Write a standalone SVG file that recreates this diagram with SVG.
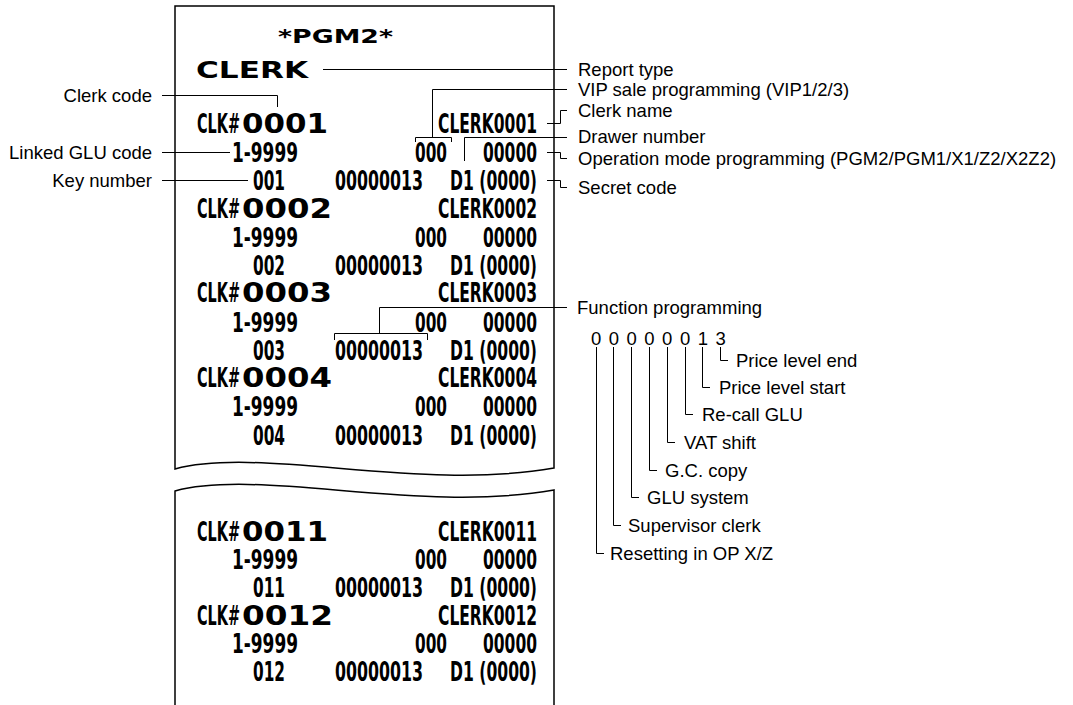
<svg xmlns="http://www.w3.org/2000/svg" width="1073" height="705" viewBox="0 0 1073 705">
<style>
.lbl{font-family:"Liberation Sans",Arial,sans-serif;font-size:18.5px;fill:#000}
.end{text-anchor:end}
.rc{font-family:"Liberation Sans Narrow","DejaVu Sans Condensed","Liberation Sans",sans-serif;font-weight:bold;font-size:26px;font-stretch:condensed;fill:#000}
.wd{font-family:"DejaVu Sans","Liberation Sans",sans-serif;font-weight:bold;font-size:27px;fill:#000}
.ln{stroke:#000;stroke-width:1;fill:none}
.paper{stroke:#000;stroke-width:1.5;fill:#fff}
</style>
<rect width="1073" height="705" fill="#fff"/>
<g id="receipt">
<path class="paper" d="M175 469 L175 6 L554 6 L554 468 C420 492 260 446 175 469 Z"/>
<path class="paper" d="M175 705 L175 491 C260 468 420 514 554 490 L554 705"/>
<text class="wd" x="278" y="43" textLength="115" lengthAdjust="spacingAndGlyphs" style="font-size:19px">*PGM2*</text>
<text class="wd" x="196" y="78" textLength="112" lengthAdjust="spacingAndGlyphs" style="font-size:23px">CLERK</text>
</g>
<g id="clk0001">
<text class="rc" y="133"><tspan x="197" textLength="43" lengthAdjust="spacingAndGlyphs">CLK#</tspan><tspan class="wd" x="242" textLength="86" lengthAdjust="spacingAndGlyphs">0001</tspan></text>
<text class="rc" x="438" y="133" textLength="99" lengthAdjust="spacingAndGlyphs">CLERK0001</text>
<text class="rc" x="232" y="162" textLength="66" lengthAdjust="spacingAndGlyphs">1-9999</text>
<text class="rc" x="415" y="162" textLength="32" lengthAdjust="spacingAndGlyphs">000</text>
<text class="rc" x="483" y="162" textLength="54" lengthAdjust="spacingAndGlyphs">00000</text>
<text class="rc" x="253" y="190" textLength="32" lengthAdjust="spacingAndGlyphs">001</text>
<text class="rc" x="335" y="190" textLength="88" lengthAdjust="spacingAndGlyphs">00000013</text>
<text class="rc" x="450" y="190" textLength="87" lengthAdjust="spacingAndGlyphs">D1 (0000)</text>
</g>
<g id="clk0002">
<text class="rc" y="218"><tspan x="197" textLength="43" lengthAdjust="spacingAndGlyphs">CLK#</tspan><tspan class="wd" x="242" textLength="90" lengthAdjust="spacingAndGlyphs">0002</tspan></text>
<text class="rc" x="438" y="218" textLength="99" lengthAdjust="spacingAndGlyphs">CLERK0002</text>
<text class="rc" x="232" y="247" textLength="66" lengthAdjust="spacingAndGlyphs">1-9999</text>
<text class="rc" x="415" y="247" textLength="32" lengthAdjust="spacingAndGlyphs">000</text>
<text class="rc" x="483" y="247" textLength="54" lengthAdjust="spacingAndGlyphs">00000</text>
<text class="rc" x="253" y="275" textLength="32" lengthAdjust="spacingAndGlyphs">002</text>
<text class="rc" x="335" y="275" textLength="88" lengthAdjust="spacingAndGlyphs">00000013</text>
<text class="rc" x="450" y="275" textLength="87" lengthAdjust="spacingAndGlyphs">D1 (0000)</text>
</g>
<g id="clk0003">
<text class="rc" y="302"><tspan x="197" textLength="43" lengthAdjust="spacingAndGlyphs">CLK#</tspan><tspan class="wd" x="242" textLength="90" lengthAdjust="spacingAndGlyphs">0003</tspan></text>
<text class="rc" x="438" y="302" textLength="99" lengthAdjust="spacingAndGlyphs">CLERK0003</text>
<text class="rc" x="232" y="332" textLength="66" lengthAdjust="spacingAndGlyphs">1-9999</text>
<text class="rc" x="415" y="332" textLength="32" lengthAdjust="spacingAndGlyphs">000</text>
<text class="rc" x="483" y="332" textLength="54" lengthAdjust="spacingAndGlyphs">00000</text>
<text class="rc" x="253" y="360" textLength="32" lengthAdjust="spacingAndGlyphs">003</text>
<text class="rc" x="335" y="360" textLength="88" lengthAdjust="spacingAndGlyphs">00000013</text>
<text class="rc" x="450" y="360" textLength="87" lengthAdjust="spacingAndGlyphs">D1 (0000)</text>
</g>
<g id="clk0004">
<text class="rc" y="387"><tspan x="197" textLength="43" lengthAdjust="spacingAndGlyphs">CLK#</tspan><tspan class="wd" x="242" textLength="90" lengthAdjust="spacingAndGlyphs">0004</tspan></text>
<text class="rc" x="438" y="387" textLength="99" lengthAdjust="spacingAndGlyphs">CLERK0004</text>
<text class="rc" x="232" y="416" textLength="66" lengthAdjust="spacingAndGlyphs">1-9999</text>
<text class="rc" x="415" y="416" textLength="32" lengthAdjust="spacingAndGlyphs">000</text>
<text class="rc" x="483" y="416" textLength="54" lengthAdjust="spacingAndGlyphs">00000</text>
<text class="rc" x="253" y="445" textLength="32" lengthAdjust="spacingAndGlyphs">004</text>
<text class="rc" x="335" y="445" textLength="88" lengthAdjust="spacingAndGlyphs">00000013</text>
<text class="rc" x="450" y="445" textLength="87" lengthAdjust="spacingAndGlyphs">D1 (0000)</text>
</g>
<g id="clk0011">
<text class="rc" y="541"><tspan x="197" textLength="43" lengthAdjust="spacingAndGlyphs">CLK#</tspan><tspan class="wd" x="242" textLength="86" lengthAdjust="spacingAndGlyphs">0011</tspan></text>
<text class="rc" x="438" y="541" textLength="99" lengthAdjust="spacingAndGlyphs">CLERK0011</text>
<text class="rc" x="232" y="569" textLength="66" lengthAdjust="spacingAndGlyphs">1-9999</text>
<text class="rc" x="415" y="569" textLength="32" lengthAdjust="spacingAndGlyphs">000</text>
<text class="rc" x="483" y="569" textLength="54" lengthAdjust="spacingAndGlyphs">00000</text>
<text class="rc" x="253" y="597" textLength="32" lengthAdjust="spacingAndGlyphs">011</text>
<text class="rc" x="335" y="597" textLength="88" lengthAdjust="spacingAndGlyphs">00000013</text>
<text class="rc" x="450" y="597" textLength="87" lengthAdjust="spacingAndGlyphs">D1 (0000)</text>
</g>
<g id="clk0012">
<text class="rc" y="625"><tspan x="197" textLength="43" lengthAdjust="spacingAndGlyphs">CLK#</tspan><tspan class="wd" x="242" textLength="91" lengthAdjust="spacingAndGlyphs">0012</tspan></text>
<text class="rc" x="438" y="625" textLength="99" lengthAdjust="spacingAndGlyphs">CLERK0012</text>
<text class="rc" x="232" y="653" textLength="66" lengthAdjust="spacingAndGlyphs">1-9999</text>
<text class="rc" x="415" y="653" textLength="32" lengthAdjust="spacingAndGlyphs">000</text>
<text class="rc" x="483" y="653" textLength="54" lengthAdjust="spacingAndGlyphs">00000</text>
<text class="rc" x="253" y="681" textLength="32" lengthAdjust="spacingAndGlyphs">012</text>
<text class="rc" x="335" y="681" textLength="88" lengthAdjust="spacingAndGlyphs">00000013</text>
<text class="rc" x="450" y="681" textLength="87" lengthAdjust="spacingAndGlyphs">D1 (0000)</text>
</g>
<g id="connectors">
<path class="ln" d="M162 95.5H277.5V107"/>
<path class="ln" d="M162 152.5H230"/>
<path class="ln" d="M162 180.5H248"/>
<path class="ln" d="M323 69.5H567"/>
<path class="ln" d="M415.5 142V137.5H451.5V142M432.5 137.5V89.5H567"/>
<path class="ln" d="M547 123.5H560.5V110.5H567"/>
<path class="ln" d="M464.5 161V137.5H567"/>
<path class="ln" d="M547 152.5H560.5V158.5H567"/>
<path class="ln" d="M547 180.5H560.5V187.5H567"/>
<path class="ln" d="M334.5 340V333.5H427.5V340M379.5 333.5V307.5H567"/>
<path class="ln" d="M720.5 347V360.5H728"/>
<path class="ln" d="M702.5 347V387.5H710"/>
<path class="ln" d="M685.5 347V414.5H693"/>
<path class="ln" d="M667.5 347V442.5H675"/>
<path class="ln" d="M649.5 347V470.5H657"/>
<path class="ln" d="M631.5 347V497.5H639"/>
<path class="ln" d="M613.5 347V525.5H621"/>
<path class="ln" d="M596.5 347V553.5H604"/>
</g>
<g id="lbl-clerk-code"><text class="lbl end" x="152" y="101.5">Clerk code</text></g>
<g id="lbl-linked-glu"><text class="lbl end" x="152" y="158.5">Linked GLU code</text></g>
<g id="lbl-key-number"><text class="lbl end" x="152" y="186.5">Key number</text></g>
<g id="lbl-report-type"><text class="lbl" x="578" y="76">Report type</text></g>
<g id="lbl-vip"><text class="lbl" x="578" y="96">VIP sale programming (VIP1/2/3)</text></g>
<g id="lbl-clerk-name"><text class="lbl" x="578" y="117">Clerk name</text></g>
<g id="lbl-drawer"><text class="lbl" x="578" y="143">Drawer number</text></g>
<g id="lbl-opmode"><text class="lbl" x="578" y="164.5">Operation mode programming (PGM2/PGM1/X1/Z2/X2Z2)</text></g>
<g id="lbl-secret"><text class="lbl" x="578" y="193.5">Secret code</text></g>
<g id="lbl-function"><text class="lbl" x="577" y="314">Function programming</text></g>
<g id="function-digits"><text class="lbl" x="590.9 601.2 608.7 619 626.5 636.8 644.3 654.6 662.1 672.4 679.9 690.2 697.7 708 715.5" y="344.5">0 0 0 0 0 0 1 3</text></g>
<g id="lbl-pl-end"><text class="lbl" x="736" y="366.5">Price level end</text></g>
<g id="lbl-pl-start"><text class="lbl" x="719" y="393.5">Price level start</text></g>
<g id="lbl-recall"><text class="lbl" x="702" y="420.5">Re-call GLU</text></g>
<g id="lbl-vat"><text class="lbl" x="684" y="448.5">VAT shift</text></g>
<g id="lbl-gc"><text class="lbl" x="665" y="476.5">G.C. copy</text></g>
<g id="lbl-glu-sys"><text class="lbl" x="647" y="503.5">GLU system</text></g>
<g id="lbl-supervisor"><text class="lbl" x="628" y="531.5">Supervisor clerk</text></g>
<g id="lbl-reset"><text class="lbl" x="610" y="559.5">Resetting in OP X/Z</text></g>
</svg>
